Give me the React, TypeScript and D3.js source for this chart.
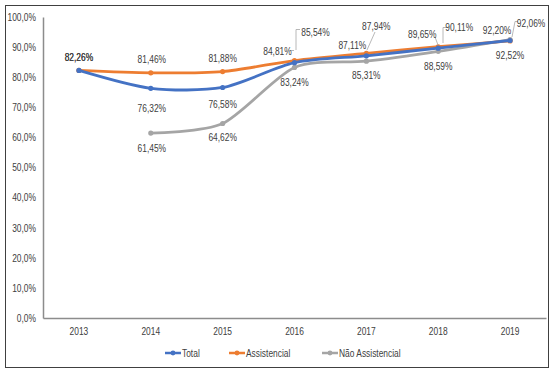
import { useEffect, useRef } from "react";
import * as d3 from "d3";

// values
const years = ["2013", "2014", "2015", "2016", "2017", "2018", "2019"];
const total = [82.26, 76.32, 76.58, 84.81, 87.11, 89.65, 92.2];
const assistencial = [82.26, 81.46, 81.88, 85.54, 87.94, 90.11, 92.06];
const naoAssistencial = [null, 61.45, 64.62, 83.24, 85.31, 88.59, 92.52];
const yTicks = [0, 10, 20, 30, 40, 50, 60, 70, 80, 90, 100];

// label placement (offset of label centre from point) and optional leader lines
const totalLabelPos = [[0, -13], [1, 20], [0, 16.5], [-17, -11], [-14, -10], [-16, -14], [-13, -10]];
const assistLabelPos = [[0, -13], [1, -13], [0, -13.5], [21, -28], [10, -27], [21, -19], [21, -18]];
const naoLabelPos = [null, [1, 15], [0, 13.5], [0, 14.5], [0, 14], [0, 15], [0, 16]];

const W = 560;
const H = 373;
const margin = { top: 17, right: 14, bottom: 55, left: 43 };
const FONT = "'Liberation Sans', Arial, sans-serif";

const fmt = (v: number) => v.toFixed(2).replace(".", ",") + "%";

export default function App() {
  const ref = useRef<SVGSVGElement>(null);

  useEffect(() => {
    const svg = d3.select(ref.current);
    svg.selectAll("*").remove();

    svg.append("rect").attr("width", W).attr("height", H).attr("fill", "#fff");
    svg.append("rect").attr("x", 5.5).attr("y", 5.5).attr("width", 543).attr("height", 362)
      .attr("fill", "none").attr("stroke", "#404040").attr("stroke-width", 1);

    const x = d3.scaleBand().domain(years).range([margin.left, W - margin.right]);
    const y = d3.scaleLinear().domain([0, 100]).range([H - margin.bottom, margin.top]);
    const cx = (i: number) => (x(years[i]) as number) + x.bandwidth() / 2;

    // y axis
    const yAxis = svg.append("g").attr("transform", `translate(${margin.left},0)`)
      .call(d3.axisLeft(y).tickValues(yTicks).tickSize(0).tickPadding(7)
        .tickFormat((d) => (d as number).toFixed(1).replace(".", ",") + "%"));
    yAxis.select(".domain").attr("stroke", "#8c8c8c").attr("stroke-width", 1.5);
    yAxis.selectAll("text").attr("font-family", FONT).attr("font-size", 10.5).attr("fill", "#404040");

    // x axis
    const xAxis = svg.append("g").attr("transform", `translate(0,${H - margin.bottom})`)
      .call(d3.axisBottom(x).tickSize(0).tickPadding(10));
    xAxis.select(".domain").attr("stroke", "#8c8c8c").attr("stroke-width", 1.5);
    xAxis.selectAll("text").attr("font-family", FONT).attr("font-size", 10.5).attr("fill", "#404040");

    const series = [
      { name: "Total", values: total, color: "#4472C4", pos: totalLabelPos },
      { name: "Assistencial", values: assistencial, color: "#ED7D31", pos: assistLabelPos },
      { name: "Não Assistencial", values: naoAssistencial, color: "#A5A5A5", pos: naoLabelPos },
    ];

    const line = d3.line<[number, number]>()
      .x((d) => cx(d[0])).y((d) => y(d[1]))
      .curve(d3.curveCardinal.tension(0.2));

    // draw in reverse so Total sits on top like in the reference
    [series[2], series[1], series[0]].forEach((s) => {
      const pts = s.values.map((v, i) => [i, v] as [number, number | null])
        .filter((p) => p[1] != null) as [number, number][];
      svg.append("path").attr("d", line(pts)).attr("fill", "none")
        .attr("stroke", s.color).attr("stroke-width", 2.8).attr("stroke-linecap", "round");
      svg.append("g").selectAll("circle").data(pts).join("circle")
        .attr("cx", (d) => cx(d[0])).attr("cy", (d) => y(d[1])).attr("r", 2.6)
        .attr("fill", s.color);
    });

    // leader lines (Excel style callouts)
    const leaders: [number, number][][] = [
      [[290, 50.5], [294, 50.5]],
      [[296, 50], [296, 29.5], [300, 29.5]],
      [[375, 32], [367, 50]],
      [[435, 37], [438, 45]],
      [[447, 27.5], [443, 27.5], [443, 43]],
      [[518, 21.5], [515, 21.5], [512, 37]],
    ];
    leaders.forEach((l) => {
      svg.append("path").attr("d", d3.line()(l)).attr("fill", "none")
        .attr("stroke", "#a6a6a6").attr("stroke-width", 0.8);
    });

    // data labels
    series.forEach((s) => {
      s.values.forEach((v, i) => {
        const p = s.pos[i];
        if (v == null || !p) return;
        svg.append("text").attr("x", cx(i) + p[0]).attr("y", y(v) + p[1])
          .attr("dy", "0.35em").attr("text-anchor", "middle")
          .attr("font-family", FONT).attr("font-size", 10.5).attr("fill", "#404040")
          .text(fmt(v));
      });
    });

    // legend
    const legend = svg.append("g").attr("transform", "translate(0,353)");
    const legendX = [165, 229, 322];
    series.forEach((s, i) => {
      const g = legend.append("g").attr("transform", `translate(${legendX[i]},0)`);
      g.append("line").attr("x1", 0).attr("x2", 16).attr("stroke", s.color).attr("stroke-width", 2.5);
      g.append("circle").attr("cx", 8).attr("r", 2.4).attr("fill", s.color);
      g.append("text").attr("x", 17).attr("dy", "0.35em").attr("font-family", FONT)
        .attr("font-size", 10.5).attr("fill", "#404040").text(s.name);
    });

    // squeeze every text to mimic Arial Narrow
    svg.selectAll<SVGTextElement, unknown>("text").each(function () {
      const len = this.getComputedTextLength();
      d3.select(this).attr("textLength", len * 0.8).attr("lengthAdjust", "spacingAndGlyphs");
    });
  }, []);

  return (
    <svg ref={ref} width={W} height={H}
      style={{ position: "absolute", left: 0, top: 0, display: "block" }} />
  );
}
